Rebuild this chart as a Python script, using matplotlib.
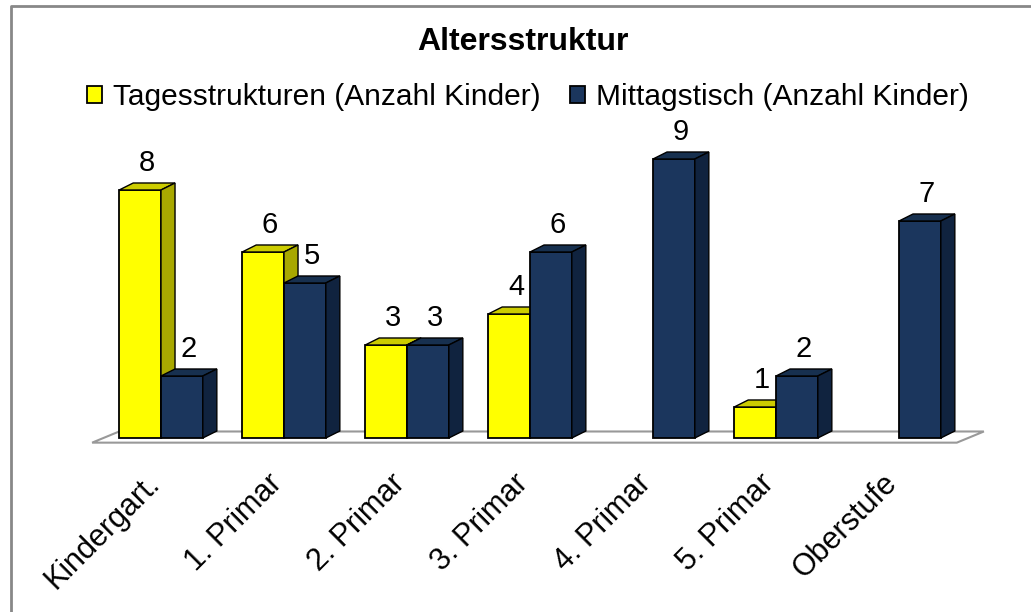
import matplotlib.pyplot as plt
from matplotlib.patches import Polygon, Patch
from matplotlib.lines import Line2D
from matplotlib.transforms import ScaledTranslation

# Daten
kategorien = ['Kindergart.', '1. Primar', '2. Primar', '3. Primar',
              '4. Primar', '5. Primar', 'Oberstufe']
tagesstrukturen = [8, 6, 3, 4, 0, 1, 0]
mittagstisch = [2, 5, 3, 6, 9, 2, 7]
serien_namen = ['Tagesstrukturen (Anzahl Kinder)', 'Mittagstisch (Anzahl Kinder)']

plt.rcParams['font.family'] = ['Liberation Sans', 'DejaVu Sans']

W, H = 1031, 612
fig = plt.figure(figsize=(W / 100, H / 100), dpi=100)

# Achse in Pixelkoordinaten platzieren
px_l, px_r, px_t, px_b = 80, 1000, 130, 460
ax = fig.add_axes([px_l / W, 1 - px_b / H, (px_r - px_l) / W, (px_b - px_t) / H])
ax.set_xlim((px_l - 161) / 123, (px_r - 161) / 123)
ax.set_ylim(-(px_b - 438) / 31, (438 - px_t) / 31)

breite = 0.34
dx, dy = 0.114, 0.226  # Tiefe der 3D-Balken

farben = {
    'gelb': ('#FFFF00', '#CCCC00', '#A8A800'),
    'blau': ('#1B365D', '#17304F', '#10233F'),
}

# Boden
fx0, fx1, fy = -0.56, 6.47, -0.15
fdx, fdy = 0.22, 0.36
ax.add_patch(Polygon([(fx0, fy), (fx1, fy), (fx1 + fdx, fy + fdy), (fx0 + fdx, fy + fdy)],
                     closed=True, facecolor='white', edgecolor='#999999', lw=1.5, zorder=1))


def balken_3d(x, h, farbe, z):
    front, oben, seite = farben[farbe]
    ax.bar(x, h, width=breite, align='edge', color=front, edgecolor='black', lw=1.3, zorder=z)
    ax.add_patch(Polygon([(x, h), (x + breite, h), (x + breite + dx, h + dy), (x + dx, h + dy)],
                         closed=True, facecolor=oben, edgecolor='black', lw=1.0, zorder=z))
    ax.add_patch(Polygon([(x + breite, 0), (x + breite + dx, dy), (x + breite + dx, h + dy), (x + breite, h)],
                         closed=True, facecolor=seite, edgecolor='black', lw=1.0, zorder=z))
    ax.text(x + breite / 2 + dx / 2, h + dy + 0.2, str(h), ha='center', va='bottom',
            fontsize=21, zorder=z + 1)


for i in range(len(kategorien)):
    if tagesstrukturen[i] > 0:
        balken_3d(i - breite, tagesstrukturen[i], 'gelb', 2 + 2 * i)
    if mittagstisch[i] > 0:
        balken_3d(i, mittagstisch[i], 'blau', 3 + 2 * i)

ax.set_xticks(range(len(kategorien)))
ax.set_xticklabels(kategorien, rotation=45, ha='right', rotation_mode='anchor', fontsize=22)
ax.tick_params(axis='x', length=0, pad=6)
verschiebung = ScaledTranslation(-12 / 72, 0, fig.dpi_scale_trans)
for lab in ax.get_xticklabels():
    lab.set_transform(lab.get_transform() + verschiebung)
ax.set_yticks([])
for s in ax.spines.values():
    s.set_visible(False)
ax.patch.set_alpha(0)

fig.text(523 / W, 1 - 42 / H, 'Altersstruktur', ha='center', va='center',
         fontsize=23, fontweight='bold')

handles = [Patch(facecolor='#FFFF00', edgecolor='black', lw=1.3),
           Patch(facecolor='#1B365D', edgecolor='black', lw=1.3)]
fig.legend(handles, serien_namen, loc='center', bbox_to_anchor=(528 / W, 1 - 97 / H),
           ncol=2, frameon=False, fontsize=21.5, handlelength=0.5, handleheight=0.5,
           handletextpad=0.35, columnspacing=1.0)

# Rahmen oben und links
fig.add_artist(Line2D([11 / W, 11 / W, 1], [0, 1 - 6 / H, 1 - 6 / H],
                      transform=fig.transFigure, color='#888888', lw=2))

fig.savefig('out.png', dpi=100)
